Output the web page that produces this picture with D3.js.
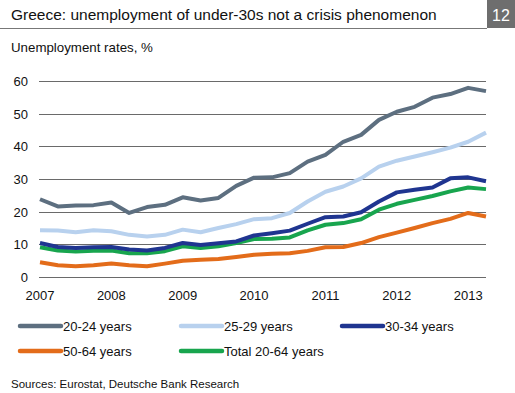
<!DOCTYPE html>
<html>
<head>
<meta charset="utf-8">
<script src="https://cdn.jsdelivr.net/npm/d3@7"></script>
<style>
  body { margin: 0; background: #fff; }
  svg { font-family: "Liberation Sans", Arial, sans-serif; display: block; }
</style>
</head>
<body>
<svg id="chart" width="515" height="393"></svg>
<script>
// quarterly, 2007 Q1 .. 2013 Q2
var quarters = [];
for (var yr = 2007; yr <= 2013; yr++) {
    for (var q = 1; q <= 4; q++) {
        if (yr === 2013 && q > 2) break;
        quarters.push(yr + " Q" + q);
    }
}
var yearLabels = ["2007", "2008", "2009", "2010", "2011", "2012", "2013"];
var yTicks = [0, 10, 20, 30, 40, 50, 60];

var age2024 = [23.8, 21.6, 21.9, 22.0, 22.8, 19.6, 21.4, 22.1, 24.4, 23.4, 24.2, 27.9, 30.4,
    30.5, 31.8, 35.3, 37.4, 41.4, 43.5, 48.1, 50.6, 52.1, 54.9, 56.0, 57.9, 56.9];
var age2529 = [14.3, 14.2, 13.7, 14.3, 14.0, 12.9, 12.4, 12.9, 14.5, 13.7, 15.0, 16.2, 17.7,
    18.0, 19.6, 23.1, 26.1, 27.7, 30.2, 33.8, 35.6, 36.9, 38.2, 39.6, 41.4, 44.2];
var age3034 = [10.4, 9.2, 8.9, 9.1, 9.2, 8.4, 8.1, 8.9, 10.4, 9.8, 10.3, 10.9, 12.7,
    13.4, 14.2, 16.3, 18.3, 18.5, 19.8, 23.1, 25.9, 26.7, 27.4, 30.2, 30.5, 29.3];
var age5064 = [4.5, 3.6, 3.3, 3.6, 4.1, 3.6, 3.3, 4.1, 5.0, 5.3, 5.5, 6.1, 6.8,
    7.1, 7.3, 8.0, 9.1, 9.2, 10.4, 12.2, 13.6, 15.0, 16.5, 17.8, 19.6, 18.5];
var total2064 = [9.1, 8.1, 7.8, 8.0, 8.1, 7.3, 7.3, 7.9, 9.4, 8.9, 9.4, 10.4, 11.6,
    11.7, 12.1, 14.3, 16.0, 16.5, 17.7, 20.6, 22.4, 23.6, 24.8, 26.2, 27.4, 26.9];

var series = [
    { name: "20-24 years", values: age2024, color: "#5d6f80" },
    { name: "25-29 years", values: age2529, color: "#b8d1ee" },
    { name: "30-34 years", values: age3034, color: "#1f3590" },
    { name: "50-64 years", values: age5064, color: "#e36c1a" },
    { name: "Total 20-64 years", values: total2064, color: "#18a54e" }
];

var svg = d3.select("#chart");

// title bar
svg.append("text").attr("x", 11).attr("y", 20)
    .attr("font-size", "15.5px").attr("fill", "#111")
    .text("Greece: unemployment of under-30s not a crisis phenomenon");
svg.append("line").attr("x1", 0).attr("x2", 487).attr("y1", 28.5).attr("y2", 28.5)
    .attr("stroke", "#777").attr("stroke-width", 1);
svg.append("rect").attr("x", 487).attr("y", 0).attr("width", 28).attr("height", 28)
    .attr("fill", "#6e6e6e");
svg.append("text").attr("x", 501).attr("y", 21).attr("text-anchor", "middle")
    .attr("font-size", "16px").attr("fill", "#fff").text("12");

svg.append("text").attr("x", 11).attr("y", 52)
    .attr("font-size", "13.3px").attr("fill", "#111").text("Unemployment rates, %");

var x = d3.scaleLinear().domain([0, quarters.length - 1]).range([40, 486]);
var y = d3.scaleLinear().domain([0, 60]).range([277, 81]);

// grid
var g = svg.append("g");
g.selectAll(".grid").data(yTicks).enter().append("line")
    .attr("class", "grid")
    .attr("x1", 39).attr("x2", 486)
    .attr("y1", function (d) { return Math.round(y(d)) + 0.5; })
    .attr("y2", function (d) { return Math.round(y(d)) + 0.5; })
    .attr("stroke", "#6a6a6a").attr("stroke-width", 1);

// y labels
g.selectAll(".ylab").data(yTicks).enter().append("text")
    .attr("x", 28).attr("y", function (d) { return y(d) + 5; })
    .attr("text-anchor", "end").attr("font-size", "13px").attr("fill", "#111")
    .text(function (d) { return d; });

// x labels, one per year at Q1
g.selectAll(".xlab").data(yearLabels).enter().append("text")
    .attr("x", function (d, i) { return x(i * 4); })
    .attr("y", 300)
    .attr("text-anchor", "middle").attr("font-size", "13px").attr("fill", "#111")
    .text(function (d) { return d; });

var line = d3.line()
    .x(function (d, i) { return x(i); })
    .y(function (d) { return y(d); });

// draw in back-to-front order
var drawOrder = [0, 1, 3, 4, 2];
drawOrder.forEach(function (k) {
    var s = series[k];
    g.append("path").datum(s.values)
        .attr("d", line)
        .attr("fill", "none")
        .attr("stroke", s.color)
        .attr("stroke-width", 4)
        .attr("stroke-linejoin", "round");
});

// legend
var legendPos = [[20, 326], [181, 326], [342, 326], [20, 351], [181, 351]];
var legend = svg.append("g");
series.forEach(function (s, i) {
    var p = legendPos[i];
    legend.append("line")
        .attr("x1", p[0]).attr("x2", p[0] + 41)
        .attr("y1", p[1]).attr("y2", p[1])
        .attr("stroke", s.color).attr("stroke-width", 4.5).attr("stroke-linecap", "round");
    legend.append("text")
        .attr("x", p[0] + 43).attr("y", p[1] + 5)
        .attr("font-size", "13px").attr("fill", "#111")
        .text(s.name);
});

svg.append("text").attr("x", 11).attr("y", 388)
    .attr("font-size", "11.5px").attr("fill", "#111")
    .text("Sources: Eurostat, Deutsche Bank Research");
</script>
</body>
</html>
